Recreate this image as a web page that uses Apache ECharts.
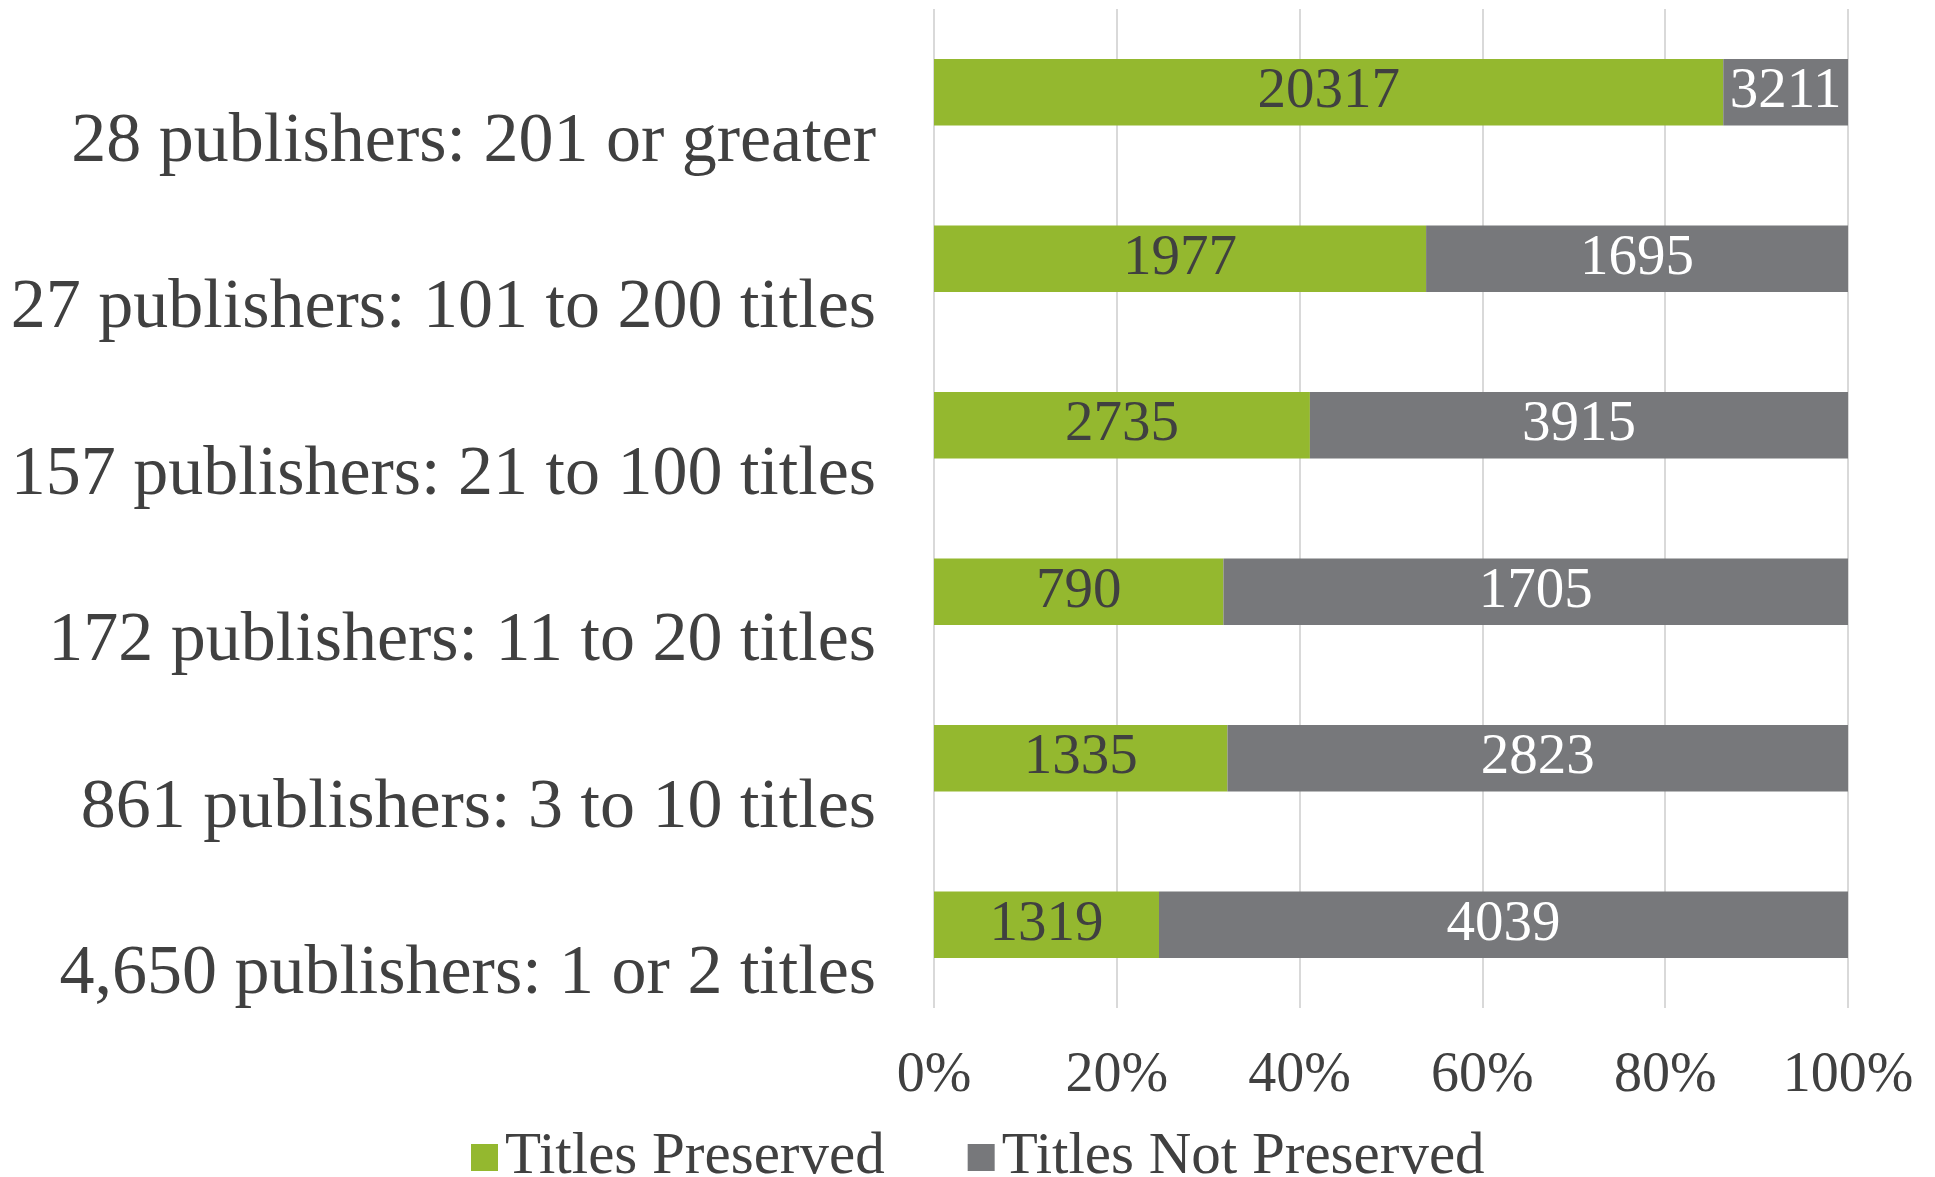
<!DOCTYPE html>
<html>
<head>
<meta charset="utf-8">
<script src="https://cdn.jsdelivr.net/npm/echarts@6/dist/echarts.min.js"></script>
<style>html,body{margin:0;padding:0;background:#fff}#c{width:1935px;height:1177px}</style>
</head>
<body>
<div id="c"></div>
<script>
const categories = [
  "4,650 publishers: 1 or 2 titles",
  "861 publishers: 3 to 10 titles",
  "172 publishers: 11 to 20 titles",
  "157 publishers: 21 to 100 titles",
  "27 publishers: 101 to 200 titles",
  "28 publishers: 201 or greater"
];
const preserved = [1319, 1335, 790, 2735, 1977, 20317];
const notPreserved = [4039, 2823, 1705, 3915, 1695, 3211];
const xTicks = ["0%", "20%", "40%", "60%", "80%", "100%"];

const FONT = "Liberation Serif";
const totals = preserved.map((v, i) => v + notPreserved[i]);
const pct = (arr) => arr.map((v, i) => ({ value: v / totals[i] * 100, raw: v }));

const chart = echarts.init(document.getElementById('c'), null, { renderer: 'canvas' });
chart.setOption({
  animation: false,
  textStyle: { fontFamily: FONT },
  grid: { left: 934, right: 87, top: 9, bottom: 169, containLabel: false },
  legend: {
    data: ["Titles Preserved", "Titles Not Preserved"],
    left: 466, top: 1123,
    itemWidth: 27, itemHeight: 27, itemGap: 83,
    icon: 'rect',
    textStyle: { fontFamily: FONT, fontSize: 59, color: '#404040', padding: [0, 0, 0, 2] }
  },
  xAxis: {
    type: 'value', min: 0, max: 100, interval: 20,
    axisLine: { show: false }, axisTick: { show: false },
    splitLine: { show: true, lineStyle: { color: '#d9d9d9', width: 2 } },
    axisLabel: {
      margin: 40, fontFamily: FONT, fontSize: 56, color: '#404040',
      formatter: (v) => xTicks[Math.round(v / 20)]
    }
  },
  yAxis: {
    type: 'category', data: categories,
    axisLine: { show: false }, axisTick: { show: false },
    axisLabel: {
      margin: 58, fontFamily: FONT, fontSize: 70, color: '#404040',
      verticalAlign: 'top', lineHeight: 100
    }
  },
  series: [
    {
      name: "Titles Preserved", type: 'bar', stack: 'a', barWidth: '40%',
      itemStyle: { color: '#94B82F' },
      label: { show: true, position: 'inside', fontFamily: FONT, fontSize: 57, color: '#404040',
        formatter: (p) => p.data.raw },
      data: pct(preserved)
    },
    {
      name: "Titles Not Preserved", type: 'bar', stack: 'a', barWidth: '40%',
      itemStyle: { color: '#77787B' },
      label: { show: true, position: 'inside', fontFamily: FONT, fontSize: 57, color: '#ffffff',
        formatter: (p) => p.data.raw },
      data: pct(notPreserved)
    }
  ]
});
</script>
</body>
</html>
